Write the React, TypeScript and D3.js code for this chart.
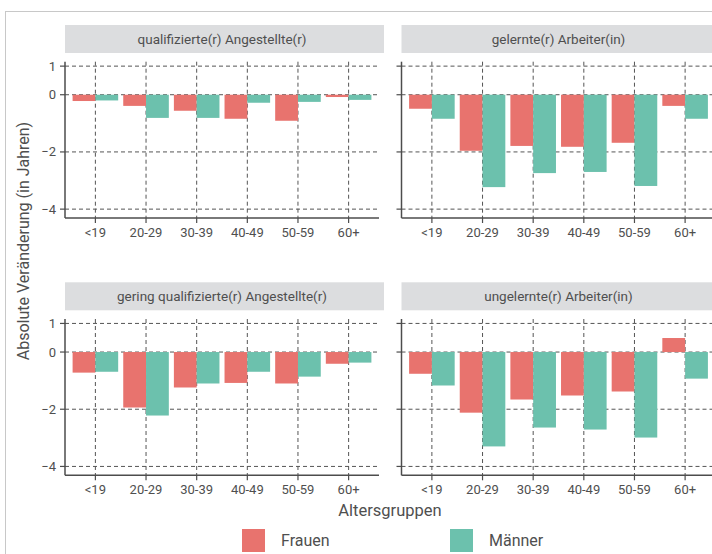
import * as d3 from 'd3';
import React from 'react';

// age groups on the x axis
const ageGroups = ['<19', '20-29', '30-39', '40-49', '50-59', '60+'];
const sexes = ['Frauen', 'Männer'];
const panelTitles = [
  'qualifizierte(r) Angestellte(r)',
  'gelernte(r) Arbeiter(in)',
  'gering qualifizierte(r) Angestellte(r)',
  'ungelernte(r) Arbeiter(in)',
];

// change in years, per panel, per age group
const frauen = [
  [-0.22, -0.39, -0.56, -0.84, -0.91, -0.08],
  [-0.49, -1.96, -1.79, -1.82, -1.68, -0.39],
  [-0.72, -1.94, -1.24, -1.08, -1.1, -0.41],
  [-0.76, -2.12, -1.66, -1.52, -1.38, 0.49],
];
const maenner = [
  [-0.2, -0.81, -0.81, -0.28, -0.25, -0.18],
  [-0.84, -3.23, -2.74, -2.7, -3.19, -0.84],
  [-0.69, -2.22, -1.1, -0.69, -0.86, -0.37],
  [-1.17, -3.3, -2.64, -2.71, -2.99, -0.93],
];
const yTicks = [1, 0, -2, -4];

const colors = ['#e8736e', '#6cc1ad'];
const textColor = '#4f4f4f';
const font = 'Roboto, sans-serif';

const W = 712;
const H = 554;
const colX: [number, number][] = [
  [65, 379],
  [401.5, 715.5],
];
const rowY = [0, 257.3];
const plotTop = 61.7;
const plotBottom = 218;
const stripTop = 25;
const stripBottom = 53;

const Panel: React.FC<{ idx: number }> = ({ idx }) => {
  const col = idx % 2;
  const row = Math.floor(idx / 2);
  const [x0, x1] = colX[col];
  const dy = rowY[row];

  // discrete axis with 0.6 units of padding on either side
  const x = d3.scalePoint<string>().domain(ageGroups).range([x0, x1]).padding(0.6);
  const barW = x.step() * 0.45;
  const sub = d3.scaleBand<string>().domain(sexes).range([-barW, barW]);

  const y = d3.scaleLinear().domain([1.155, -4.31]).range([plotTop + dy, plotBottom + dy]);
  const series = [frauen[idx], maenner[idx]];

  return (
    <g>
      <rect x={x0} y={stripTop + dy} width={Math.min(x1, W) - x0 + 5} height={stripBottom - stripTop} fill="#dcdddf" />
      <text
        x={(x0 + x1) / 2}
        y={(stripTop + stripBottom) / 2 + dy}
        dy="0.35em"
        textAnchor="middle"
        fontSize={13.5}
        fill={textColor}
      >
        {panelTitles[idx]}
      </text>
      {/* grid */}
      {yTicks.map((t) => (
        <line key={'h' + t} x1={x0} x2={x1} y1={y(t)} y2={y(t)} stroke="#555" strokeWidth={1} strokeDasharray="4,3" />
      ))}
      {ageGroups.map((g) => (
        <line key={'v' + g} x1={x(g)} x2={x(g)} y1={plotTop + dy} y2={plotBottom + dy} stroke="#555" strokeWidth={1} strokeDasharray="4,3" />
      ))}
      {/* bars */}
      {series.map((vals, si) =>
        vals.map((v, i) => (
          <rect
            key={si + '-' + i}
            x={(x(ageGroups[i]) ?? 0) + (sub(sexes[si]) ?? 0)}
            width={sub.bandwidth()}
            y={Math.min(y(v), y(0))}
            height={Math.abs(y(v) - y(0))}
            fill={colors[si]}
          />
        ))
      )}
      {/* axes */}
      <line x1={x0} x2={x0} y1={plotTop + dy} y2={plotBottom + dy} stroke="#4d4d4d" strokeWidth={1.5} />
      <line x1={x0} x2={x1} y1={plotBottom + dy} y2={plotBottom + dy} stroke="#4d4d4d" strokeWidth={1.5} />
      {yTicks.map((t) => (
        <g key={'yt' + t}>
          <line x1={x0 - 5} x2={x0} y1={y(t)} y2={y(t)} stroke="#4d4d4d" strokeWidth={1.2} />
          {col === 0 && (
            <text x={x0 - 9} y={y(t)} dy="0.35em" textAnchor="end" fontSize={13} fill={textColor}>
              {d3.format('')(t)}
            </text>
          )}
        </g>
      ))}
      {ageGroups.map((g) => (
        <g key={'xt' + g}>
          <line x1={x(g)} x2={x(g)} y1={plotBottom + dy} y2={plotBottom + dy + 5} stroke="#4d4d4d" strokeWidth={1.2} />
          <text x={x(g)} y={plotBottom + dy + 14} dy="0.35em" textAnchor="middle" fontSize={13} fill={textColor}>
            {g}
          </text>
        </g>
      ))}
    </g>
  );
};

const App: React.FC = () => {
  return (
    <svg width={W} height={H} style={{ display: 'block', position: 'absolute', left: 0, top: 0 }} fontFamily={font}>
      <rect width={W} height={H} fill="#fff" />
      <rect x={5.5} y={11.5} width={W + 10} height={H + 10} fill="none" stroke="#c8c8c8" strokeWidth={1} />
      {panelTitles.map((_, i) => (
        <Panel key={i} idx={i} />
      ))}
      <text
        transform={`translate(23, 241) rotate(-90)`}
        textAnchor="middle"
        dy="0.35em"
        fontSize={16}
        fill={textColor}
      >
        Absolute Veränderung (in Jahren)
      </text>
      <text x={390} y={510} dy="0.35em" textAnchor="middle" fontSize={16.5} fill={textColor}>
        Altersgruppen
      </text>
      {sexes.map((s, i) => (
        <g key={s} transform={`translate(${[242, 450][i]}, 529)`}>
          <rect width={23} height={23} fill={colors[i]} />
          <text x={39} y={11.5} dy="0.35em" fontSize={16} fill={textColor}>
            {s}
          </text>
        </g>
      ))}
    </svg>
  );
};

export default App;
